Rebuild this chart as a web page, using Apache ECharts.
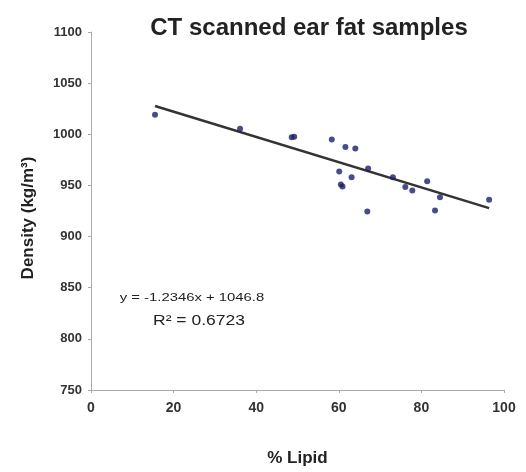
<!DOCTYPE html>
<html>
<head>
<meta charset="utf-8">
<script src="https://cdn.jsdelivr.net/npm/echarts@6/dist/echarts.min.js"></script>
<style>html,body{margin:0;padding:0;background:#fff}#c{width:526px;height:472px}</style>
</head>
<body>
<div id="c"></div>
<script>
// Data
var lipid   = [15.5, 36.1, 48.6, 49.2, 58.3, 61.6, 64.0, 60.1, 63.1, 60.5, 60.9, 67.1, 66.9, 73.1, 76.1, 77.8, 81.4, 83.3, 84.5, 96.4];
var density = [1019, 1005.5, 997, 997.5, 995, 987.5, 986, 963.5, 958, 951, 949, 966.5, 924.5, 958, 948.5, 945, 954, 925.5, 938.5, 936];
var trendSlope = -1.2346;
var trendIntercept = 1046.8;
var trendRange = [15.5, 96.4];
var xTicks = [0, 20, 40, 60, 80, 100];
var yTicks = [750, 800, 850, 900, 950, 1000, 1050, 1100];
var titleText = 'CT scanned ear fat samples';
var xName = '% Lipid';
var yName = 'Density (kg/m\u00b3)';
var eqText = 'y = -1.2346x + 1046.8';
var r2Text = 'R\u00b2 = 0.6723';

var pts = lipid.map(function (x, i) { return [x, density[i]]; });
var trend = trendRange.map(function (x) { return [x, trendSlope * x + trendIntercept]; });

var chart = echarts.init(document.getElementById('c'));
var font = 'Arial, "Liberation Sans", sans-serif';
chart.setOption({
  animation: false,
  backgroundColor: '#fff',
  title: {
    text: titleText,
    left: 304, top: 11, textAlign: 'center',
    textStyle: { fontFamily: font, fontSize: 24, fontWeight: 'bold', color: '#222' }
  },
  grid: { left: 91, right: 22, top: 32, bottom: 75 },
  xAxis: {
    type: 'value', min: xTicks[0], max: xTicks[xTicks.length - 1], interval: 20,
    name: xName, nameLocation: 'middle', nameGap: 60,
    nameTextStyle: { fontFamily: font, fontSize: 17, fontWeight: 'bold', color: '#222' },
    axisLine: { show: true, lineStyle: { color: '#aaa', width: 1 } },
    axisTick: { show: true, length: 3, lineStyle: { color: '#aaa' } },
    axisLabel: { fontFamily: font, fontSize: 14, fontWeight: 'bold', color: '#333', margin: 11 },
    splitLine: { show: false }
  },
  yAxis: {
    type: 'value', min: yTicks[0], max: yTicks[yTicks.length - 1], interval: 50,
    axisLine: { show: true, lineStyle: { color: '#aaa', width: 1 } },
    axisTick: { show: true, length: 3, lineStyle: { color: '#aaa' } },
    axisLabel: { fontFamily: font, fontSize: 13, fontWeight: 'bold', color: '#333', margin: 9,
                 formatter: function (v) { return String(v); } },
    splitLine: { show: false }
  },
  series: [
    {
      type: 'line', data: trend, showSymbol: false, symbol: 'none',
      lineStyle: { color: '#333', width: 2.5 }, z: 2
    },
    {
      type: 'scatter', data: pts, symbol: 'circle', symbolSize: 6,
      itemStyle: { color: '#1c1f6b' }, z: 3
    }
  ],
  graphic: [
    { type: 'text', x: 28, y: 218, rotation: Math.PI / 2,
      style: { x: 0, y: 0, text: yName, textAlign: 'center', textVerticalAlign: 'middle',
               font: 'bold 17px ' + font, fill: '#222' } },
    { type: 'text', x: 192, y: 298, scaleX: 1.35,
      style: { x: 0, y: 0, text: eqText, textAlign: 'center', textVerticalAlign: 'middle',
               font: '11px ' + font, fill: '#222' } },
    { type: 'text', x: 199, y: 321, scaleX: 1.25,
      style: { x: 0, y: 0, text: r2Text, textAlign: 'center', textVerticalAlign: 'middle',
               font: '14px ' + font, fill: '#222' } }
  ]
});
</script>
</body>
</html>
